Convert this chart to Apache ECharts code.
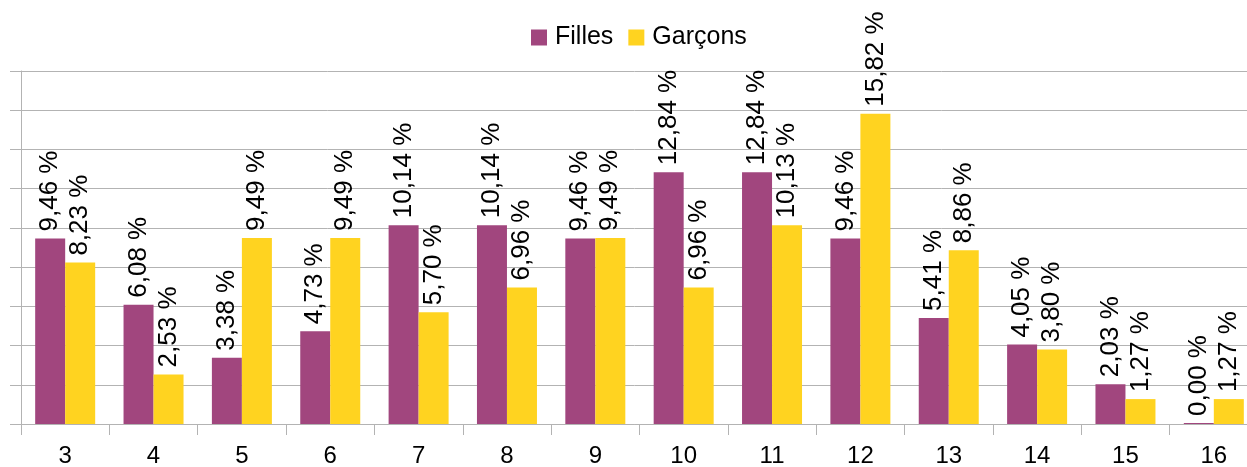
<!DOCTYPE html>
<html>
<head>
<meta charset="utf-8">
<script src="https://cdn.jsdelivr.net/npm/echarts@6/dist/echarts.min.js"></script>
<style>
  html, body { margin: 0; padding: 0; background: #fff; }
  #chart { width: 1247px; height: 467px; }
</style>
</head>
<body>
<div id="chart"></div>
<script>
var ages = ['3', '4', '5', '6', '7', '8', '9', '10', '11', '12', '13', '14', '15', '16'];
var filles = [9.46, 6.08, 3.38, 4.73, 10.14, 10.14, 9.46, 12.84, 12.84, 9.46, 5.41, 4.05, 2.03, 0.00];
var garcons = [8.23, 2.53, 9.49, 9.49, 5.70, 6.96, 9.49, 6.96, 10.13, 15.82, 8.86, 3.80, 1.27, 1.27];

var chart = echarts.init(document.getElementById('chart'));

// étiquettes verticales au-dessus des barres
var labelCfg = {
    show: true,
    position: 'top',
    rotate: 90,
    align: 'left',
    verticalAlign: 'middle',
    distance: 7,
    color: '#000',
    fontSize: 26,
    fontFamily: 'Liberation Sans',
    formatter: function (p) {
        return p.value.toFixed(2).replace('.', ',') + ' %';
    }
};

var option = {
    animation: false,
    textStyle: { fontFamily: 'Liberation Sans' },
    legend: {
        top: 20,
        left: 526,
        icon: 'rect',
        itemWidth: 16,
        itemHeight: 16,
        itemGap: 15,
        textStyle: { fontSize: 25, color: '#000', fontFamily: 'Liberation Sans', padding: [0, 0, 0, 3] },
        data: ['Filles', 'Garçons']
    },
    grid: { left: 21, width: 1237, top: 71, height: 353, outerBoundsMode: 'none', containLabel: false },
    xAxis: {
        type: 'category',
        data: ages,
        axisLine: { lineStyle: { color: '#b3b3b3' } },
        axisTick: { show: true, length: 11, lineStyle: { color: '#b3b3b3' } },
        axisLabel: { color: '#000', fontSize: 24, margin: 20, fontFamily: 'Liberation Sans' }
    },
    yAxis: {
        type: 'value',
        min: 0,
        max: 18,
        interval: 2,
        axisLine: { show: true, lineStyle: { color: '#b3b3b3' } },
        axisTick: { show: true, length: 11, lineStyle: { color: '#b3b3b3' } },
        axisLabel: { show: false },
        splitLine: { lineStyle: { color: '#b3b3b3' } }
    },
    series: [
        {
            name: 'Filles',
            type: 'bar',
            data: filles,
            barGap: '0%',
            barWidth: 30,
            barMinHeight: 1,
            itemStyle: { color: '#a1467e' },
            label: labelCfg
        },
        {
            name: 'Garçons',
            type: 'bar',
            data: garcons,
            barGap: '0%',
            barWidth: 30,
            itemStyle: { color: '#ffd320' },
            label: labelCfg
        }
    ]
};
chart.setOption(option);
</script>
</body>
</html>
